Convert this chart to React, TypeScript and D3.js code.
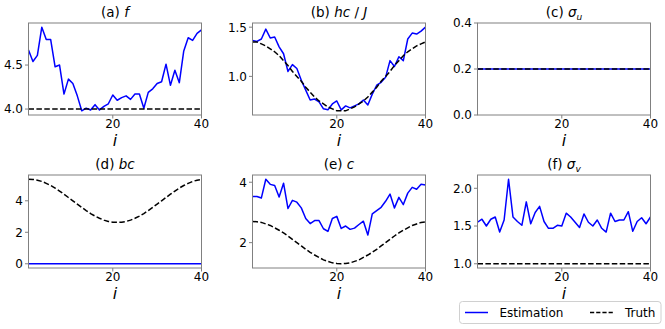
import React from 'react';
import * as d3 from 'd3';

const idx: number[] = d3.range(1, 41);

const fEst = [4.67, 4.54, 4.61, 4.93, 4.79, 4.79, 4.48, 4.5, 4.17, 4.34, 4.29, 4.15, 3.98, 4.01, 3.99, 4.05, 3.99, 4.03, 4.06, 4.16, 4.1, 4.13, 4.15, 4.11, 4.17, 4.17, 4.01, 4.19, 4.23, 4.29, 4.31, 4.51, 4.27, 4.44, 4.3, 4.66, 4.81, 4.78, 4.86, 4.9];
const fTrue = [4, 4, 4, 4, 4, 4, 4, 4, 4, 4, 4, 4, 4, 4, 4, 4, 4, 4, 4, 4, 4, 4, 4, 4, 4, 4, 4, 4, 4, 4, 4, 4, 4, 4, 4, 4, 4, 4, 4, 4];

const hcEst = [1.365, 1.355, 1.38, 1.48, 1.39, 1.4, 1.3, 1.23, 1.05, 1.12, 1.08, 0.96, 0.86, 0.76, 0.77, 0.74, 0.67, 0.66, 0.72, 0.75, 0.66, 0.7, 0.68, 0.7, 0.72, 0.76, 0.71, 0.82, 0.91, 0.94, 0.99, 1.16, 1.1, 1.2, 1.16, 1.38, 1.44, 1.43, 1.46, 1.5];
const hcTrue = [1.35, 1.35, 1.33, 1.31, 1.28, 1.25, 1.21, 1.16, 1.11, 1.05, 1.0, 0.95, 0.89, 0.84, 0.79, 0.75, 0.72, 0.69, 0.67, 0.65, 0.65, 0.65, 0.67, 0.69, 0.72, 0.75, 0.79, 0.84, 0.89, 0.95, 1.0, 1.05, 1.11, 1.16, 1.21, 1.25, 1.28, 1.31, 1.33, 1.35];

const suEst = [0.2, 0.2, 0.2, 0.2, 0.2, 0.2, 0.2, 0.2, 0.2, 0.2, 0.2, 0.2, 0.2, 0.2, 0.2, 0.2, 0.2, 0.2, 0.2, 0.2, 0.2, 0.2, 0.2, 0.2, 0.2, 0.2, 0.2, 0.2, 0.2, 0.2, 0.2, 0.2, 0.2, 0.2, 0.2, 0.2, 0.2, 0.2, 0.2, 0.2];
const suTrue = [0.2, 0.2, 0.2, 0.2, 0.2, 0.2, 0.2, 0.2, 0.2, 0.2, 0.2, 0.2, 0.2, 0.2, 0.2, 0.2, 0.2, 0.2, 0.2, 0.2, 0.2, 0.2, 0.2, 0.2, 0.2, 0.2, 0.2, 0.2, 0.2, 0.2, 0.2, 0.2, 0.2, 0.2, 0.2, 0.2, 0.2, 0.2, 0.2, 0.2];

const bcEst = [0, 0, 0, 0, 0, 0, 0, 0, 0, 0, 0, 0, 0, 0, 0, 0, 0, 0, 0, 0, 0, 0, 0, 0, 0, 0, 0, 0, 0, 0, 0, 0, 0, 0, 0, 0, 0, 0, 0, 0];
const bcTrue = [5.37, 5.36, 5.31, 5.23, 5.11, 4.97, 4.81, 4.62, 4.42, 4.21, 4.0, 3.79, 3.58, 3.38, 3.19, 3.03, 2.89, 2.77, 2.69, 2.64, 2.63, 2.64, 2.69, 2.77, 2.89, 3.03, 3.19, 3.38, 3.58, 3.79, 4.0, 4.21, 4.42, 4.62, 4.81, 4.97, 5.11, 5.23, 5.31, 5.36];

const cEst = [3.53, 3.53, 3.48, 4.1, 3.93, 3.89, 3.51, 3.97, 3.13, 3.4, 3.34, 3.15, 2.8, 2.63, 2.73, 2.73, 2.46, 2.37, 2.8, 2.87, 2.47, 2.55, 2.44, 2.48, 2.6, 2.71, 2.25, 2.95, 3.06, 3.17, 3.37, 3.61, 3.15, 3.5, 3.26, 3.64, 3.83, 3.77, 3.93, 3.91];
const cTrue = [2.7, 2.69, 2.67, 2.62, 2.57, 2.49, 2.41, 2.32, 2.22, 2.11, 2.0, 1.89, 1.78, 1.68, 1.59, 1.51, 1.43, 1.38, 1.33, 1.31, 1.3, 1.31, 1.33, 1.38, 1.43, 1.51, 1.59, 1.68, 1.78, 1.89, 2.0, 2.11, 2.22, 2.32, 2.41, 2.49, 2.57, 2.62, 2.67, 2.69];

const svEst = [1.55, 1.59, 1.5, 1.59, 1.62, 1.42, 1.58, 2.12, 1.62, 1.56, 1.51, 1.82, 1.53, 1.68, 1.76, 1.56, 1.47, 1.47, 1.51, 1.5, 1.67, 1.62, 1.55, 1.48, 1.66, 1.55, 1.5, 1.58, 1.47, 1.42, 1.67, 1.56, 1.58, 1.58, 1.69, 1.43, 1.56, 1.61, 1.53, 1.62];
const svTrue = [1, 1, 1, 1, 1, 1, 1, 1, 1, 1, 1, 1, 1, 1, 1, 1, 1, 1, 1, 1, 1, 1, 1, 1, 1, 1, 1, 1, 1, 1, 1, 1, 1, 1, 1, 1, 1, 1, 1, 1];

const xTicks = [20, 40];
const legendLabels = ['Estimation', 'Truth'];

type Panel = {
  key: string;
  label: string;
  title: React.ReactNode;
  est: number[];
  truth: number[];
  domain: [number, number] | null;
  ticks: number[];
  fmt: string;
};

const panels: Panel[] = [
  { key: 'a', label: '(a) ', title: <tspan fontStyle="italic">f</tspan>, est: fEst, truth: fTrue, domain: null, ticks: [4.0, 4.5], fmt: '.1f' },
  { key: 'b', label: '(b) ', title: <><tspan fontStyle="italic">hc</tspan><tspan> / </tspan><tspan fontStyle="italic">J</tspan></>, est: hcEst, truth: hcTrue, domain: null, ticks: [1.0, 1.5], fmt: '.1f' },
  { key: 'c', label: '(c) ', title: <><tspan fontStyle="italic">σ</tspan><tspan fontStyle="italic" fontSize="9" dy="3">u</tspan></>, est: suEst, truth: suTrue, domain: [0, 0.4], ticks: [0.0, 0.2, 0.4], fmt: '.1f' },
  { key: 'd', label: '(d) ', title: <tspan fontStyle="italic">bc</tspan>, est: bcEst, truth: bcTrue, domain: null, ticks: [0, 2, 4], fmt: 'd' },
  { key: 'e', label: '(e) ', title: <tspan fontStyle="italic">c</tspan>, est: cEst, truth: cTrue, domain: null, ticks: [2, 4], fmt: 'd' },
  { key: 'f', label: '(f) ', title: <><tspan fontStyle="italic">σ</tspan><tspan fontStyle="italic" fontSize="9" dy="3">v</tspan></>, est: svEst, truth: svTrue, domain: null, ticks: [1.0, 1.5, 2.0], fmt: '.1f' },
];

const W = 665;
const H = 329;
const colX: [number, number][] = [[28.5, 201.5], [252.5, 425.5], [477.5, 650.5]];
const rowY: [number, number][] = [[23, 115], [175, 268]];

const FONT = 'DejaVu Sans, sans-serif';
const SPINE = '#808080';

function PanelView({ p, col, row }: { p: Panel; col: number; row: number }) {
  const [x0, x1] = colX[col];
  const [y0, y1] = rowY[row];
  const x = d3.scaleLinear().domain([1, 40]).range([x0, x1]);
  let dom: [number, number];
  if (p.domain) dom = p.domain;
  else {
    const all = p.est.concat(p.truth);
    const lo = d3.min(all) as number;
    const hi = d3.max(all) as number;
    const pad = (hi - lo) * 0.05;
    dom = [lo - pad, hi + pad];
  }
  const y = d3.scaleLinear().domain(dom).range([y1, y0]);
  const line = d3.line<number>().x((_, i) => x(idx[i])).y((d) => y(d));
  const fmt = d3.format(p.fmt);
  const cx = (x0 + x1) / 2;
  return (
    <g>
      <path d={line(p.est) || ''} fill="none" stroke="#0000ff" strokeWidth={1.5} strokeLinejoin="round" />
      <path d={line(p.truth) || ''} fill="none" stroke="#000" strokeWidth={1.5} strokeDasharray="5.5,2.4" />
      <rect x={x0} y={y0} width={x1 - x0} height={y1 - y0} fill="none" stroke={SPINE} strokeWidth={1} />
      {p.ticks.map((t) => (
        <g key={t}>
          <line x1={x0 - 3.5} x2={x0} y1={y(t)} y2={y(t)} stroke={SPINE} strokeWidth={1} />
          <text x={x0 - 5.5} y={y(t)} dy="0.36em" textAnchor="end" fontSize={12} fontFamily={FONT} fill="#000">
            {fmt(t)}
          </text>
        </g>
      ))}
      {xTicks.map((t) => (
        <g key={t}>
          <line x1={x(t)} x2={x(t)} y1={y1} y2={y1 + 3.5} stroke={SPINE} strokeWidth={1} />
          <text x={x(t)} y={y1 + 13} textAnchor="middle" fontSize={12} fontFamily={FONT} fill="#000">
            {t}
          </text>
        </g>
      ))}
      <text x={cx} y={y1 + 31} textAnchor="middle" fontSize={16} fontStyle="italic" fontFamily={FONT} fill="#000">
        i
      </text>
      <text x={cx} y={y0 - 6} textAnchor="middle" fontSize={13.5} fontFamily={FONT} fill="#000">
        <tspan>{p.label}</tspan>
        {p.title}
      </text>
    </g>
  );
}

export default function App() {
  const lx = 459.5;
  const ly = 301.5;
  const lcy = 312.5;
  return (
    <div style={{ position: 'absolute', left: 0, top: 0 }}>
      <svg width={W} height={H} style={{ display: 'block', background: '#fff' }}>
        {panels.map((p, k) => (
          <PanelView key={p.key} p={p} col={k % 3} row={Math.floor(k / 3)} />
        ))}
        <rect x={lx} y={ly} width={201.5} height={22} rx={3} fill="#fff" stroke="#d0d0d0" strokeWidth={1} />
        <line x1={465} x2={488} y1={lcy} y2={lcy} stroke="#0000ff" strokeWidth={1.5} />
        <text x={499.5} y={lcy} dy="0.36em" fontSize={12} fontFamily={FONT} fill="#000">
          {legendLabels[0]}
        </text>
        <line x1={590} x2={614} y1={lcy} y2={lcy} stroke="#000" strokeWidth={1.5} strokeDasharray="4.2,2" />
        <text x={625} y={lcy} dy="0.36em" fontSize={12} fontFamily={FONT} fill="#000">
          {legendLabels[1]}
        </text>
      </svg>
    </div>
  );
}
